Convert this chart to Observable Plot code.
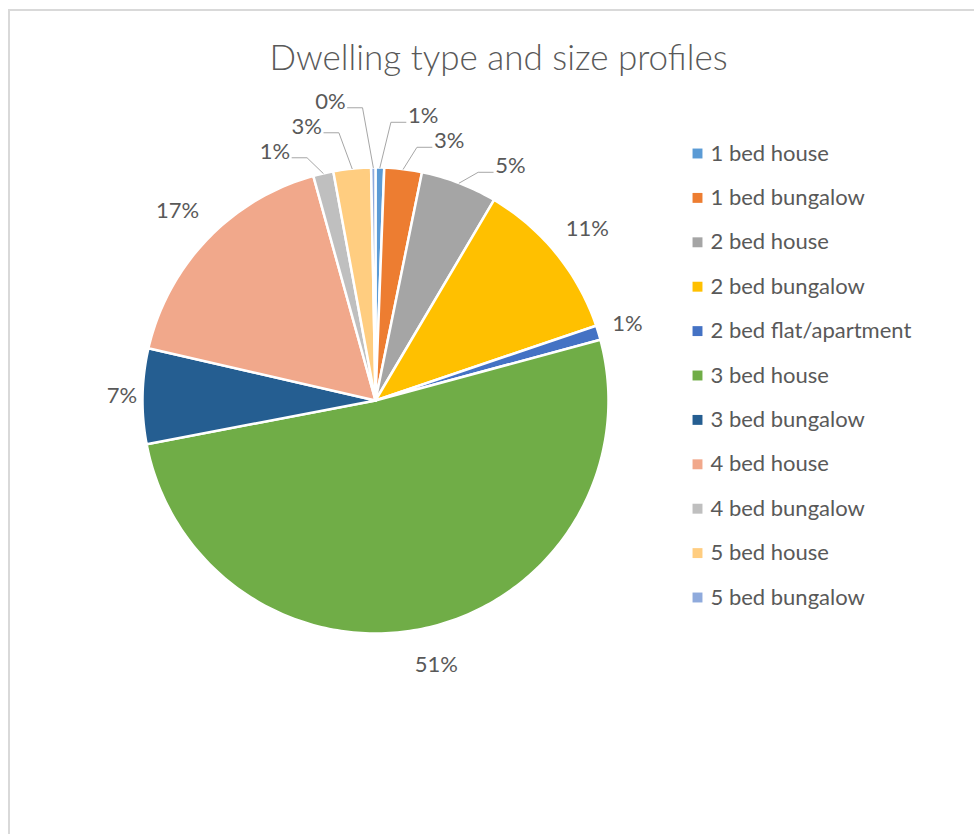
<!DOCTYPE html>
<html>
<head>
<meta charset="utf-8">
<script src="https://cdn.jsdelivr.net/npm/d3@7"></script>
<script src="https://cdn.jsdelivr.net/npm/@observablehq/plot@0.6"></script>
<style>
  html, body { margin: 0; padding: 0; background: #fff; overflow: hidden; }
  #wrap { position: relative; width: 974px; height: 834px; font-family: Lato, "Open Sans", sans-serif; }
  #frame { position: absolute; left: 8px; top: 9px; width: 1000px; height: 900px;
           border-top: 2px solid #d9d9d9; border-left: 2px solid #d9d9d9; z-index: 2; pointer-events: none; }
  #title { position: absolute; left: 0; top: 36px; width: 997px; text-align: center;
           font-size: 35px; line-height: 40px; color: #595959; font-weight: 300; }
  #chart { position: absolute; left: 0; top: 70px; }
  #chart svg { background: transparent !important; }
</style>
</head>
<body>
<div id="wrap">
  <div id="frame"></div>
  <div id="title">Dwelling type and size profiles</div>
  <div id="chart"></div>
</div>
<script>
// ---- data ----
const categories = ["1 bed house", "1 bed bungalow", "2 bed house", "2 bed bungalow",
  "2 bed flat/apartment", "3 bed house", "3 bed bungalow", "4 bed house",
  "4 bed bungalow", "5 bed house", "5 bed bungalow"];
const shares = [0.6, 2.6, 5.3, 11.3, 1.0, 51.2, 6.6, 17.1, 1.4, 2.6, 0.3];
const colors = ["#5B9BD5", "#ED7D31", "#A5A5A5", "#FFC000", "#4472C4", "#70AD47",
  "#255E91", "#F1A88B", "#BFBFBF", "#FFCD80", "#8FAADC"];

// ---- layout ----
const W = 974, H = 764, CX = 375, CY = 330, RP = 233;
const textColor = "#595959";
const total = d3.sum(shares);
let acc = 0;
const slices = categories.map((c, i) => {
  const a0 = acc / total * 2 * Math.PI;
  acc += shares[i];
  const a1 = acc / total * 2 * Math.PI;
  return {cat: c, share: shares[i], a0, a1, mid: (a0 + a1) / 2,
          pct: Math.round(shares[i] / total * 100) + "%"};
});

const polyPts = slices.flatMap(s => {
  const n = Math.max(2, Math.ceil((s.a1 - s.a0) / (Math.PI / 180)));
  const pts = [{cat: s.cat, x: 0, y: 0}];
  for (let k = 0; k <= n; k++) {
    const a = s.a0 + (s.a1 - s.a0) * k / n;
    pts.push({cat: s.cat, x: Math.sin(a), y: Math.cos(a)});
  }
  pts.push({cat: s.cat, x: 0, y: 0});
  return pts;
});

const isLeader = s => s.share < 6 && Math.abs(Math.cos(s.mid)) > 0.9;
const bigLabels = slices.filter(s => !isLeader(s)).map(s => {
  const r = 1 + (20 + 13 * Math.abs(Math.cos(s.mid)) + 12 * Math.abs(Math.sin(2 * s.mid))) / RP;
  return {text: s.pct, x: r * Math.sin(s.mid), y: r * Math.cos(s.mid)};
});

const small = slices.filter(isLeader).map(s => {
  const side = Math.sin(s.mid) >= 0 ? 1 : -1;
  const ang = s.mid + side * 6 * Math.PI / 180;
  const r = 1 + 30 / RP;
  return {text: s.pct, side, mid: s.mid, ax: r * Math.sin(ang), ay: r * Math.cos(ang)};
});
for (const side of [1, -1]) {
  const grp = small.filter(d => d.side === side).sort((a, b) => a.ay - b.ay);
  for (let i = 1; i < grp.length; i++) grp[i].ay = Math.max(grp[i].ay, grp[i - 1].ay + 25 / RP);
}
const leaderPts = small.flatMap((d, i) => [
  {id: i, x: Math.sin(d.mid), y: Math.cos(d.mid)},
  {id: i, x: d.ax - d.side * 17 / RP, y: d.ay - 6 / RP},
  {id: i, x: d.ax - d.side * 2 / RP, y: d.ay - 6 / RP}
]);

const legend = categories.map((c, i) => ({cat: c, i}));
const legY = d => (CY - (83 + d.i * 44.4)) / RP;

const chart = Plot.plot({
  width: W, height: H, margin: 0,
  style: {fontFamily: "Lato, 'Open Sans', sans-serif", background: "transparent"},
  x: {domain: [-CX / RP, (W - CX) / RP], range: [0, W], axis: null},
  y: {domain: [-(H - CY) / RP, CY / RP], range: [H, 0], axis: null},
  color: {domain: categories, range: colors, legend: false},
  marks: [
    Plot.line(polyPts, {x: "x", y: "y", z: "cat", fill: "cat", stroke: "white",
      strokeWidth: 2.5, strokeLinejoin: "round"}),
    Plot.line(leaderPts, {x: "x", y: "y", z: "id", stroke: "#a6a6a6", strokeWidth: 1}),
    Plot.text(bigLabels, {x: "x", y: "y", text: "text", fill: textColor, fontSize: 22, textAnchor: "middle"}),
    Plot.text(small.filter(d => d.side > 0), {x: "ax", y: "ay", text: "text", fill: textColor, fontSize: 22, textAnchor: "start"}),
    Plot.text(small.filter(d => d.side < 0), {x: "ax", y: "ay", text: "text", fill: textColor, fontSize: 22, textAnchor: "end"}),
    Plot.dot(legend, {x: () => (697 - CX) / RP, y: legY, symbol: "square", r: 5.6, fill: "cat", stroke: null}),
    Plot.text(legend, {x: () => (710 - CX) / RP, y: legY, text: "cat", fill: textColor, fontSize: 22, textAnchor: "start"})
  ]
});
document.getElementById("chart").appendChild(chart);
</script>
</body>
</html>
